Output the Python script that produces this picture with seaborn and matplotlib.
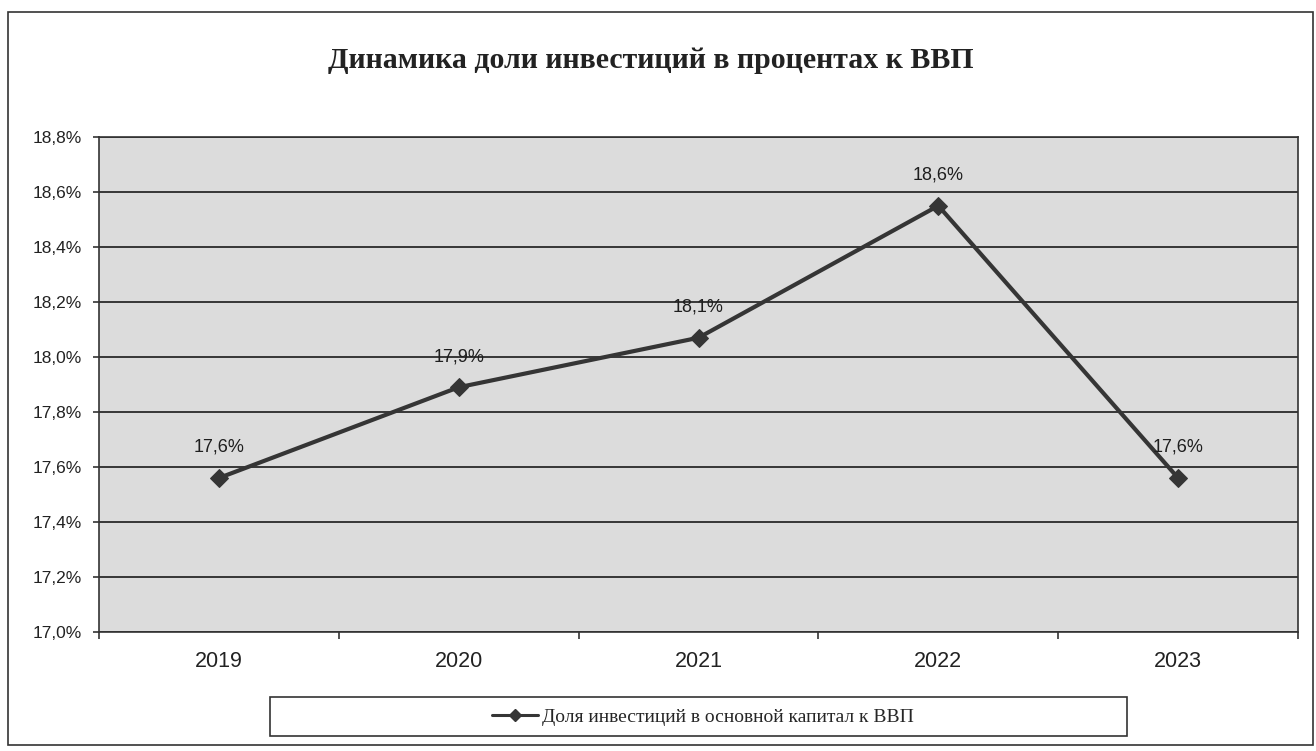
import matplotlib
matplotlib.use("Agg")
import matplotlib.pyplot as plt
from matplotlib.patches import Rectangle
from matplotlib.lines import Line2D
import numpy as np
import pandas as pd
import seaborn as sns

# Investment share of GDP, percent
years = ["2019", "2020", "2021", "2022", "2023"]
share = [17.56, 17.89, 18.07, 18.55, 17.56]
y_ticks = [17.0, 17.2, 17.4, 17.6, 17.8, 18.0, 18.2, 18.4, 18.6, 18.8]

title = "Динамика доли инвестиций в процентах к ВВП"
series_name = "Доля инвестиций в основной капитал к ВВП"

sns.set_theme(style="white")
plt.rcParams["font.family"] = ["Liberation Sans", "DejaVu Sans"]

df = pd.DataFrame({"pos": np.arange(len(years)), "share": share})

W, H = 1316, 751
fig = plt.figure(figsize=(W / 100, H / 100), dpi=100)
fig.patch.set_facecolor("white")

# outer chart frame
fig.add_artist(Rectangle((8 / W, 1 - 745 / H), 1305 / W, 733 / H,
                         transform=fig.transFigure, fill=False,
                         edgecolor="#333333", linewidth=1.2))

ax = fig.add_axes([99 / W, 1 - 632 / H, 1199 / W, 495 / H])
ax.set_facecolor("#dcdcdc")

line_color = "#353535"
sns.lineplot(data=df, x="pos", y="share", ax=ax, color=line_color,
             linewidth=3.0, marker="D", markersize=9,
             markeredgecolor=line_color, markerfacecolor=line_color)

ax.set_xlim(-0.5, len(years) - 0.5)
ax.set_ylim(y_ticks[0], y_ticks[-1])
ax.set_yticks(y_ticks)
ax.set_yticklabels([f"{t:.1f}%".replace(".", ",") for t in y_ticks],
                   fontsize=12.5, color="#222222")
ax.set_xticks(np.arange(len(years)))
ax.set_xticklabels(years, fontsize=15.5, color="#222222")
ax.set_xticks(np.arange(len(years) + 1) - 0.5, minor=True)
ax.tick_params(axis="x", which="major", length=0, pad=14)
ax.tick_params(axis="x", which="minor", length=5, width=1.2,
               color="#333333", direction="out", bottom=True)
ax.tick_params(axis="y", length=4, width=1.2, color="#333333",
               direction="out", left=True, pad=8.5)
ax.set_xlabel("")
ax.set_ylabel("")

ax.grid(axis="y", color="#2a2a2a", linewidth=1.3)
ax.grid(axis="x", visible=False)
ax.set_axisbelow(True)
for side in ["left", "bottom", "top", "right"]:
    ax.spines[side].set_visible(True)
    ax.spines[side].set_color("#333333")
    ax.spines[side].set_linewidth(1.2)

# value labels above each point
for x, v in zip(df["pos"], df["share"]):
    ax.annotate(f"{v:.1f}%".replace(".", ","), (x, v), xytext=(0, 16),
                textcoords="offset points", ha="center", va="bottom",
                fontsize=13, color="#1e1e1e")

fig.text(651 / W, 1 - 60 / H, title, ha="center", va="center",
         fontsize=21.5, fontweight="bold", family="Liberation Serif",
         color="#222222")

# legend box below the plot
fig.add_artist(Rectangle((270 / W, 1 - 736 / H), 857 / W, 39 / H,
                         transform=fig.transFigure, fill=False,
                         edgecolor="#333333", linewidth=1.2))
handle = Line2D([], [], color=line_color, linewidth=2.2, marker="D",
                markersize=6)
fig.legend([handle], [series_name], loc="center",
           bbox_to_anchor=(703 / W, 1 - 717 / H), frameon=False,
           prop={"family": "Liberation Serif", "size": 14},
           handlelength=2.4, handletextpad=0.2)

fig.savefig("out.png", dpi=100)
